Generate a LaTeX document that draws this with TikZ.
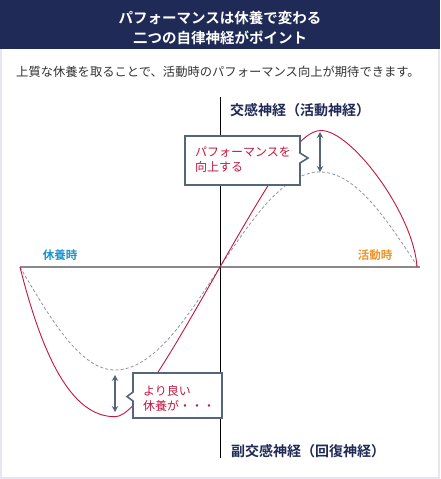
\documentclass[tikz,border=0pt]{standalone}
\usepackage{fontspec}
\setmainfont{Noto Sans CJK JP}[BoldFont={Noto Sans CJK JP Bold}]
\usetikzlibrary{arrows.meta}
\definecolor{navy}{HTML}{1F2A56}
\definecolor{frame}{HTML}{E6E6F2}
\definecolor{curvered}{HTML}{C2173F}
\definecolor{slate}{HTML}{56667A}
\definecolor{restblue}{HTML}{1A94CF}
\definecolor{workorange}{HTML}{EA952B}
\definecolor{basegray}{HTML}{8A8A8A}
\definecolor{dashgray}{HTML}{8E97A1}
\tikzset{
  axislabel/.style={text=navy, font=\bfseries\fontsize{14}{16}\selectfont, anchor=west, inner sep=0pt},
  sidelabel/.style={font=\bfseries\fontsize{11.5}{14}\selectfont, inner sep=0pt},
  calltext/.style={text=curvered, font=\fontsize{12}{15}\selectfont, align=left, anchor=west, inner sep=0pt},
  callbox/.style={draw=slate, line width=1.6pt, fill=white, line join=miter},
  gaparrow/.style={draw=slate, line width=2.6pt, {Stealth[length=6pt,width=6.5pt]}-{Stealth[length=6pt,width=6.5pt]}}
}
\begin{document}
\begin{tikzpicture}[x={(1pt,0)}, y={(0,-1pt)}]
\fill[frame] (0,0) rectangle (440,479);
\fill[white] (2,0) rectangle (438,477);
\fill[navy] (0,0) rectangle (440,49);
\useasboundingbox (0,0) rectangle (440,479);

\node[text=white, font=\bfseries\fontsize{14.5}{20}\selectfont, align=center, inner sep=0pt] (title) at (220,27.5) {パフォーマンスは休養で変わる\\二つの自律神経がポイント};
\node[text=black!80, font=\fontsize{12.3}{15}\selectfont, inner sep=0pt] (lead) at (218,72) {上質な休養を取ることで、活動時のパフォーマンス向上が期待できます。};

\coordinate (ytop) at (220,97);
\coordinate (ybot) at (220,458);
\coordinate (xleft) at (20,267);
\coordinate (xright) at (420,267);
\path[draw,basegray,line width=2pt] (xleft) -- (xright);
\path[draw,black,line width=1pt] (ytop) -- (ybot);

\draw[dashgray, line width=0.8pt, dash pattern=on 3pt off 2.2pt] (20,267) .. controls (51,319.8) and (80.6,370) .. (115,370) .. controls (153,370) and (185.8,319.8) .. (220,267) .. controls (252.6,218.3) and (283.8,172) .. (320,172) .. controls (355.5,172) and (386,218.3) .. (418,267);
\draw[curvered, line width=0.9pt] (20,267) .. controls (48,379) and (80,416.7) .. (115,416.7) .. controls (135,416.7) and (170,354.7) .. (220,267) .. controls (275,171) and (300,130.5) .. (321,130.5) .. controls (352,130.5) and (414,215) .. (417,267);

\node[sidelabel, text=restblue] (rest) at (60,255) {休養時};
\node[sidelabel, text=workorange] (work) at (375,255) {活動時};
\node[axislabel] (symp) at (230,110) {交感神経（活動神経）};
\node[axislabel] (para) at (231,451) {副交感神経（回復神経）};

\path[callbox] (185,136) -- (300,136) -- (300,153) -- (308,158) -- (300,163) -- (300,185) -- (185,185) -- cycle;
\node[calltext] (upnote) at (195,160) {パフォーマンスを\\向上する};
\coordinate (peak) at (320,132);
\coordinate (oldpeak) at (320,172);
\path[gaparrow] (peak) -- (oldpeak);

\path[callbox] (133,373) -- (222,373) -- (222,418) -- (133,418) -- (133,401) -- (127,396.5) -- (133,392) -- cycle;
\node[calltext] (downnote) at (143,398) {より良い\\休養が・・・};
\coordinate (oldtrough) at (115,375);
\coordinate (trough) at (115,412);
\path[gaparrow] (oldtrough) -- (trough);
\end{tikzpicture}
\end{document}
